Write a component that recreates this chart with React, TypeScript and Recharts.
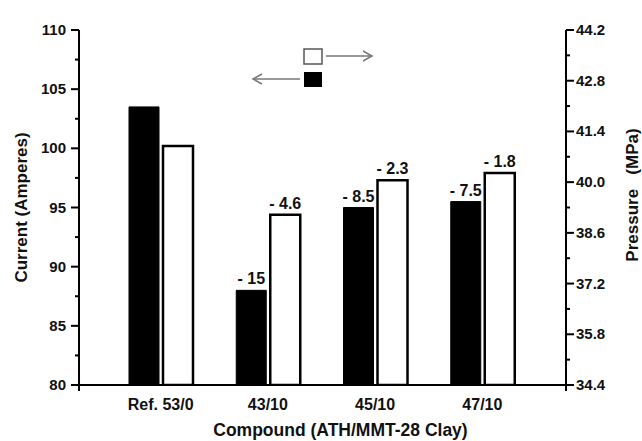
import { BarChart, Bar, XAxis, YAxis, LabelList, Label } from "recharts"

const compounds = ["Ref. 53/0", "43/10", "45/10", "47/10"]
const currentAmps = [103.5, 88, 95, 95.5]
const pressureMPa = [41.0, 39.1, 40.05, 40.25]
const currentDrop = ["", "- 15", "- 8.5", "- 7.5"]
const pressureDrop = ["", "- 4.6", "- 2.3", "- 1.8"]
const currentTicks = [80, 82.5, 85, 87.5, 90, 92.5, 95, 97.5, 100, 102.5, 105, 107.5, 110]
const pressureTicks = [34.4, 35.1, 35.8, 36.5, 37.2, 37.9, 38.6, 39.3, 40.0, 40.7, 41.4, 42.1, 42.8, 43.5, 44.2]

const data = compounds.map((compound, i) => ({
  compound,
  current: currentAmps[i],
  pressure: pressureMPa[i],
  currentDrop: currentDrop[i],
  pressureDrop: pressureDrop[i],
}))

const FONT = "'Liberation Sans', Arial, Helvetica, sans-serif"
const W = 642
const H = 441
const PLOT_LEFT = 79
const PLOT_RIGHT = 566
const PLOT_TOP = 30
const PLOT_BOTTOM = 385

// major ticks get a label, minor ticks only a short mark
function LeftTick(props: any) {
  const { y, index, payload } = props
  const major = index % 2 === 0
  const len = major ? 8 : 4
  return (
    <g>
      <rect x={PLOT_LEFT - len} y={y - 1} width={len} height={2} fill="#000" />
      {major && (
        <text x={PLOT_LEFT - 13} y={y} dy={5} textAnchor="end" fontSize={15} fontWeight="bold" fill="#111" fontFamily={FONT}>
          {payload.value}
        </text>
      )}
    </g>
  )
}

function RightTick(props: any) {
  const { y, index, payload } = props
  const major = index % 2 === 0
  const len = major ? 8 : 4
  return (
    <g>
      <rect x={PLOT_RIGHT} y={y - 1} width={len} height={2} fill="#000" />
      {major && (
        <text x={PLOT_RIGHT + 10} y={y} dy={5} textAnchor="start" fontSize={15} fontWeight="bold" fill="#111" fontFamily={FONT}>
          {Number(payload.value).toFixed(1)}
        </text>
      )}
    </g>
  )
}

function CategoryTick(props: any) {
  const { x, payload } = props
  return (
    <text x={x} y={PLOT_BOTTOM + 25} textAnchor="middle" fontSize={16} fontWeight="bold" fill="#111" fontFamily={FONT}>
      {payload.value}
    </text>
  )
}

export default function App() {
  return (
    <div style={{ position: "absolute", left: 0, top: 0, width: W, height: H, background: "#fff" }}>
      <BarChart
        width={W}
        height={H}
        data={data}
        margin={{ top: PLOT_TOP, right: 0, bottom: 0, left: 0 }}
        barSize={30}
        barGap={4}
      >
        <XAxis
          dataKey="compound"
          height={H - PLOT_BOTTOM}
          padding={{ left: 28, right: 30 }}
          tickLine={false}
          axisLine={{ stroke: "#000", strokeWidth: 2 }}
          tick={<CategoryTick />}
          interval={0}
        >
          <Label
            content={(p: any) => (
              <text
                x={p.viewBox.x + p.viewBox.width / 2 + 18}
                y={p.viewBox.y + 51}
                textAnchor="middle"
                fontSize={17.5}
                fontWeight="bold"
                fill="#111"
                fontFamily={FONT}
              >
                Compound (ATH/MMT-28 Clay)
              </text>
            )}
          />
        </XAxis>
        <YAxis
          yAxisId="left"
          orientation="left"
          width={PLOT_LEFT}
          domain={[80, 110]}
          ticks={currentTicks}
          interval={0}
          allowDataOverflow
          tickLine={false}
          axisLine={{ stroke: "#000", strokeWidth: 2 }}
          tick={<LeftTick />}
        >
          <Label
            content={(p: any) => {
              const cx = p.viewBox.x + 21
              const cy = p.viewBox.y + p.viewBox.height / 2
              return (
                <text x={cx} y={cy} transform={`rotate(-90 ${cx} ${cy})`} dy={6} textAnchor="middle" fontSize={17} fontWeight="bold" fill="#111" fontFamily={FONT}>
                  Current (Amperes)
                </text>
              )
            }}
          />
        </YAxis>
        <YAxis
          yAxisId="right"
          orientation="right"
          width={W - PLOT_RIGHT}
          domain={[34.4, 44.2]}
          ticks={pressureTicks}
          interval={0}
          allowDataOverflow
          tickLine={false}
          axisLine={{ stroke: "#000", strokeWidth: 2 }}
          tick={<RightTick />}
        >
          <Label
            content={(p: any) => {
              const cx = p.viewBox.x + 66
              const cy = p.viewBox.y + 165
              return (
                <text x={cx} y={cy} transform={`rotate(-90 ${cx} ${cy})`} dy={6} textAnchor="middle" fontSize={17} fontWeight="bold" fill="#111" fontFamily={FONT}>
                  {"Pressure\u00a0\u00a0\u00a0(MPa)"}
                </text>
              )
            }}
          />
        </YAxis>
        <Bar yAxisId="left" dataKey="current" fill="#000" stroke="#000" strokeWidth={1} isAnimationActive={false}>
          <LabelList dataKey="currentDrop" position="top" offset={6} fill="#111" fontSize={16} fontWeight="bold" fontFamily={FONT} />
        </Bar>
        <Bar yAxisId="right" dataKey="pressure" fill="#fff" stroke="#000" strokeWidth={2.5} isAnimationActive={false}>
          <LabelList dataKey="pressureDrop" position="top" offset={6} fill="#111" fontSize={16} fontWeight="bold" fontFamily={FONT} />
        </Bar>
      </BarChart>
      {/* legend: hollow box -> right axis, filled box -> left axis */}
      <svg width={W} height={H} style={{ position: "absolute", left: 0, top: 0, pointerEvents: "none" }}>
        <rect x={304} y={49} width={18} height={15} fill="#fff" stroke="#555" strokeWidth={1.5} />
        <line x1={326} y1={56} x2={372} y2={56} stroke="#777" strokeWidth={1.5} />
        <polyline points="363,51 372,56 363,61" fill="none" stroke="#777" strokeWidth={1.5} />
        <rect x={304} y={72} width={18} height={15} fill="#000" />
        <line x1={300} y1={79} x2={253} y2={79} stroke="#777" strokeWidth={1.5} />
        <polyline points="262,74 253,79 262,84" fill="none" stroke="#777" strokeWidth={1.5} />
        <line x1={PLOT_LEFT} y1={PLOT_BOTTOM} x2={PLOT_LEFT} y2={PLOT_BOTTOM + 6} stroke="#000" strokeWidth={2} />
        <line x1={PLOT_RIGHT} y1={PLOT_BOTTOM} x2={PLOT_RIGHT} y2={PLOT_BOTTOM + 6} stroke="#000" strokeWidth={2} />
      </svg>
    </div>
  )
}
